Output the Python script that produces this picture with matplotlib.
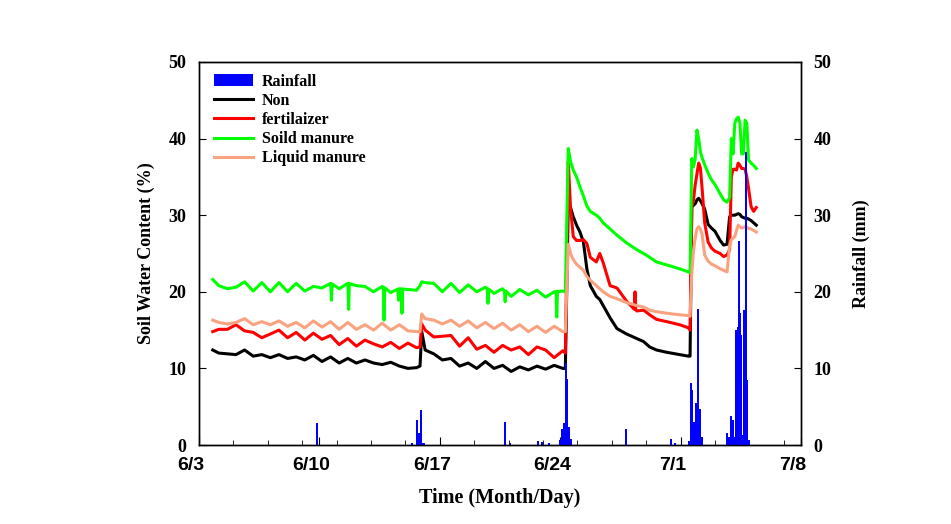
import numpy as np
import matplotlib
matplotlib.use("Agg")
import matplotlib.pyplot as plt
import matplotlib.transforms as mtransforms
from matplotlib.patches import Patch
from matplotlib.lines import Line2D

# ---- time grid (days after 6/3) ----
t = [0.8, 1.15, 1.65, 2.15, 2.65, 3.15, 3.65, 4.15, 4.65, 5.15, 5.65, 6.15, 6.65, 7.15, 7.65,
     8.15, 8.65, 9.15, 9.65, 10.15, 10.65, 11.15, 11.65, 12.15, 12.65, 12.85, 12.95, 13.15,
     13.65, 14.15, 14.65, 15.15, 15.65, 16.15, 16.65, 17.15, 17.65, 18.15, 18.65, 19.15,
     19.65, 20.15, 20.65, 21.15, 21.3,
     21.47, 21.6, 21.76, 21.95, 22.15, 22.35, 22.55, 22.75, 23.1, 23.3, 23.5, 23.9, 24.3,
     24.85, 25.45, 25.85, 26.2, 26.6, 27.2, 27.95, 28.45, 28.55,
     28.65, 28.75, 28.85, 28.95, 29.05, 29.15, 29.25, 29.4, 29.6, 29.8, 30.0, 30.3, 30.5,
     30.7, 30.85, 30.95, 31.05, 31.15, 31.25, 31.35, 31.45, 31.55, 31.65, 31.75, 31.85,
     31.95, 32.1, 32.25, 32.4]

non = [12.4, 12.0, 11.9, 11.8, 12.4, 11.6, 11.8, 11.4, 11.8, 11.3, 11.5, 11.1, 11.7, 10.9, 11.5,
       10.7, 11.3, 10.7, 11.1, 10.7, 10.5, 10.8, 10.3, 10.0, 10.1, 10.3, 14.8, 12.4, 11.9, 11.1,
       11.3, 10.3, 10.7, 10.0, 10.9, 10.0, 10.4, 9.6, 10.2, 9.8, 10.3, 9.9, 10.4, 10.0, 10.0,
       31.5, 31.0, 29.8, 28.7, 27.8, 26.5, 23.0, 20.8, 19.4, 19.0, 18.2, 16.6, 15.2, 14.5, 13.9,
       13.5, 12.8, 12.4, 12.1, 11.8, 11.6, 11.6,
       31.1, 31.3, 31.5, 32.0, 32.2, 31.9, 31.5, 30.8, 28.8, 28.3, 27.9, 26.7, 26.1, 26.2, 29.8,
       30.0, 30.0, 30.0, 30.1, 30.2, 30.1, 29.8, 29.7, 29.6, 29.6, 29.5, 29.3, 29.0, 28.7]

fert = [14.8, 15.1, 15.1, 15.7, 14.9, 14.7, 14.0, 14.5, 15.0, 14.0, 14.7, 13.7, 14.6, 13.8, 14.3,
        13.1, 13.9, 12.9, 13.7, 13.2, 12.8, 13.4, 12.6, 13.3, 12.7, 12.8, 15.8, 15.0, 14.1, 14.2,
        14.3, 12.9, 14.0, 12.5, 13.0, 12.1, 13.0, 12.4, 12.8, 11.8, 12.8, 12.4, 11.4, 12.3, 12.0,
        37.0, 31.0, 27.2, 26.7, 26.7, 26.8, 26.3, 24.5, 23.9, 25.0, 23.8, 20.8, 20.5, 18.8, 17.5,
        17.6, 17.0, 16.4, 16.1, 15.7, 15.3, 15.0,
        31.1, 32.0, 34.0, 35.4, 36.8, 36.2, 33.5, 29.0, 26.5, 25.7, 25.3, 25.0, 24.6, 24.8, 25.5,
        35.0, 36.0, 36.0, 35.9, 36.8, 36.5, 36.1, 36.1, 36.0, 35.0, 33.5, 31.1, 30.5, 31.0]

solid = [21.6, 20.8, 20.4, 20.6, 21.3, 20.1, 21.2, 20.0, 21.2, 20.0, 21.1, 20.1, 20.7, 20.5, 21.1,
         20.4, 21.1, 20.8, 20.7, 20.0, 20.7, 19.9, 20.4, 20.3, 20.2, 20.8, 21.3, 21.2, 21.1, 20.0,
         21.1, 19.9, 20.9, 20.0, 20.6, 19.8, 20.4, 19.4, 20.3, 19.6, 20.2, 19.3, 20.0, 20.1, 20.0,
         38.7, 37.0, 35.9, 35.0, 33.7, 32.5, 31.2, 30.5, 30.0, 29.6, 29.0, 28.2, 27.4, 26.4, 25.5,
         25.0, 24.5, 23.9, 23.5, 23.0, 22.6, 22.5,
         37.4, 36.3, 37.4, 41.1, 40.0, 38.3, 37.5, 36.6, 35.5, 34.6, 34.0, 32.8, 32.0, 31.7, 32.3,
         40.0, 38.0, 42.0, 42.6, 42.8, 42.0, 38.0, 38.0, 42.4, 42.0, 37.2, 36.8, 36.5, 36.1]

liquid = [16.3, 16.0, 15.8, 16.0, 16.5, 15.7, 16.1, 15.7, 16.2, 15.5, 16.0, 15.3, 16.2, 15.4, 16.1,
          15.1, 16.0, 15.1, 15.7, 15.0, 15.9, 15.0, 15.7, 14.9, 14.8, 14.8, 17.1, 16.5, 16.3, 15.8,
          16.3, 15.5, 16.2, 15.3, 16.0, 15.2, 15.9, 15.0, 15.7, 14.8, 15.5, 14.7, 15.5, 14.8, 14.8,
          26.2, 25.0, 24.2, 23.6, 23.2, 22.8, 22.0, 21.5, 20.8, 20.4, 20.0, 19.4, 19.1, 18.6, 18.2,
          18.0, 17.6, 17.4, 17.2, 17.0, 16.9, 16.8,
          22.4, 25.4, 27.0, 28.2, 28.5, 28.2, 27.5, 24.8, 24.0, 23.6, 23.4, 23.0, 22.8, 22.6, 26.0,
          26.8, 27.0, 27.2, 28.0, 28.7, 28.5, 28.3, 28.4, 28.5, 28.4, 28.3, 28.2, 28.0, 27.8]

# short downward / upward spikes
solid_spike_day = [7.7, 8.7, 10.76, 11.6, 11.8, 16.8, 17.8, 20.8]
solid_spike_val = [18.9, 17.7, 16.3, 18.9, 17.2, 18.5, 18.7, 16.7]
fert_spike_day = [25.35]
fert_spike_val = [20.0]

# rainfall (mm)
rain_day = [6.86, 12.38, 12.70, 12.79, 12.88, 13.02, 13.11, 17.79, 18.11, 19.71, 19.92, 20.35,
            20.96, 21.13, 21.22, 21.31, 21.42, 21.51, 21.60, 24.83, 27.47, 27.65,
            28.49, 28.58, 28.66, 28.78, 28.90, 29.01, 29.13, 29.24,
            30.67, 30.76, 30.84, 30.93, 31.05, 31.13, 31.22, 31.31, 31.37, 31.45, 31.54,
            31.63, 31.71, 31.80, 31.89, 31.98]
rain_mm = [2.9, 0.3, 3.3, 1.6, 4.6, 0.3, 0.3, 3.0, 0.3, 0.5, 0.4, 0.3,
           0.6, 2.1, 2.9, 10.7, 8.6, 2.3, 0.8, 2.1, 0.8, 0.3,
           0.5, 8.1, 7.2, 3.0, 5.5, 17.7, 4.7, 1.0,
           1.6, 0.7, 1.0, 3.8, 3.3, 1.0, 15.0, 15.4, 26.6, 17.2, 14.4,
           1.3, 17.6, 38.2, 8.5, 0.7]

tick_days = [0, 7, 14, 21, 28, 35]
tick_labels = ["6/3", "6/10", "6/17", "6/24", "7/1", "7/8"]


def with_spikes(tt, vv, sd, sv, w=0.04):
    tt = list(tt); vv = list(vv)
    base_t = list(tt); base_v = list(vv)
    for d, s in zip(sd, sv):
        b = float(np.interp(d, base_t, base_v))
        tt += [d - w, d, d + w]
        vv += [b, s, b]
    order = np.argsort(tt, kind="stable")
    return np.array(tt)[order], np.array(vv)[order]


serif = "Liberation Serif"
fig = plt.figure(figsize=(9.51, 5.24), dpi=100)
ax = fig.add_axes([199 / 951, 1 - 445 / 524, 602 / 951, 383 / 524])
ax2 = ax.twinx()

lw = 2.2
ax.plot(t, non, color="black", lw=lw, zorder=3)
tf, vf = with_spikes(t, fert, fert_spike_day, fert_spike_val)
ax.plot(tf, vf, color="#ff0000", lw=lw, zorder=3)
ts, vs = with_spikes(t, solid, solid_spike_day, solid_spike_val)
ax.plot(ts, vs, color="#00ff00", lw=lw, zorder=3)
ax.plot(t, liquid, color="#f9a27f", lw=lw, zorder=3)

ax2.bar(rain_day, rain_mm, width=0.115, color="#0000ff", align="center", linewidth=0)

ax.set_xlim(0, 35)
ax.set_ylim(0, 50)
ax2.set_ylim(0, 50)

ax.set_xticks(tick_days)
ax.set_xticklabels(tick_labels, fontfamily="Liberation Sans", fontweight="bold", fontsize=14)
ax.set_xticks(np.arange(0, 36, 2), minor=True)
ax.set_yticks(np.arange(0, 51, 10))
ax2.set_yticks(np.arange(0, 51, 10))
for a in (ax, ax2):
    for lab in a.get_yticklabels():
        lab.set_fontfamily(serif)
        lab.set_fontweight("bold")
        lab.set_fontsize(13)
    for s in a.spines.values():
        s.set_linewidth(1.0)
ax.tick_params(axis="x", which="major", direction="in", length=6, pad=9, top=False)
ax.tick_params(axis="x", which="minor", direction="in", length=3.5, top=False)
ax.tick_params(axis="y", which="major", direction="in", length=5, pad=9)
ax2.tick_params(axis="y", which="major", direction="in", length=5, pad=9)

# SigmaPlot-style: date labels sit slightly left of their ticks
offset = mtransforms.ScaledTranslation(-8 / 100, 0, fig.dpi_scale_trans)
for tick in ax.xaxis.get_major_ticks():
    tick.label1.set_transform(tick.label1.get_transform() + offset)

ax.set_xlabel("Time (Month/Day)", fontfamily=serif, fontweight="bold", fontsize=14.5, labelpad=10)
ax.set_ylabel("Soil Water Content (%)", fontfamily=serif, fontweight="bold", fontsize=13, labelpad=10)
ax2.set_ylabel("Rainfall (mm)", fontfamily=serif, fontweight="bold", fontsize=13, labelpad=15)

handles = [Patch(facecolor="#0000ff", edgecolor="none"),
           Line2D([], [], color="black", lw=lw),
           Line2D([], [], color="#ff0000", lw=lw),
           Line2D([], [], color="#00ff00", lw=lw),
           Line2D([], [], color="#f9a27f", lw=lw)]
labels = ["Rainfall", "Non", "fertilaizer", "Soild manure", "Liquid manure"]
ax2.legend(handles, labels, loc="upper left", bbox_to_anchor=(0.004, 1.003), frameon=False,
           prop={"family": serif, "weight": "bold", "size": 11.5},
           handlelength=2.4, handletextpad=0.6, labelspacing=0.2, borderpad=0.3)

fig.savefig("out.png", dpi=100)
